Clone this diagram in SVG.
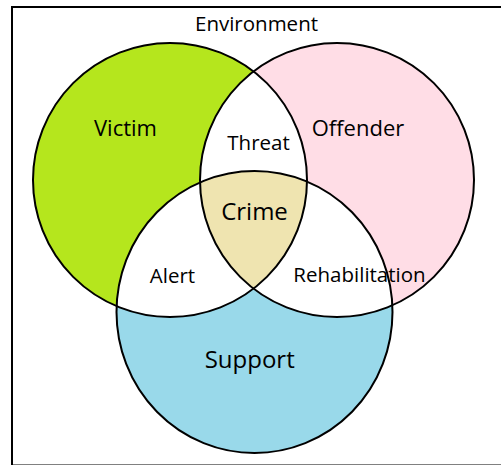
<svg xmlns="http://www.w3.org/2000/svg" width="501" height="465" viewBox="0 0 501 465">
<style>
  text { font-family: "Open Sans", "Noto Sans", sans-serif; fill: #000; text-anchor: middle; }
  .sm { font-size: 20.5px; }
  .md { font-size: 22px; }
  .lg { font-size: 24px; }
  .ring { fill: none; stroke: #000; stroke-width: 2; }
</style>
<defs>
  <circle id="cV" cx="170" cy="180" r="137"/>
  <circle id="cO" cx="337" cy="180" r="137"/>
  <ellipse id="cS" cx="254.5" cy="312" rx="138" ry="141"/>
  <clipPath id="clipV"><use href="#cV"/></clipPath>
  <clipPath id="clipO"><use href="#cO"/></clipPath>
  <clipPath id="clipS"><use href="#cS"/></clipPath>
</defs>
<rect x="0" y="0" width="501" height="465" fill="#fff"/>
<rect x="12" y="7" width="500" height="458.5" fill="#fff" stroke="#000" stroke-width="2"/>
<g id="environment"><text class="sm" x="256.5" y="31">Environment</text></g>
<g id="victim">
  <use href="#cV" fill="#b5e61d"/>
</g>
<g id="offender">
  <use href="#cO" fill="#ffdde6"/>
</g>
<g id="support">
  <use href="#cS" fill="#99d9ea"/>
</g>
<g id="threat">
  <g clip-path="url(#clipV)"><use href="#cO" fill="#fff"/></g>
</g>
<g id="alert">
  <g clip-path="url(#clipV)"><use href="#cS" fill="#fff"/></g>
</g>
<g id="rehabilitation">
  <g clip-path="url(#clipO)"><use href="#cS" fill="#fff"/></g>
</g>
<g id="crime">
  <g clip-path="url(#clipV)"><g clip-path="url(#clipO)"><use href="#cS" fill="#efe4b0"/></g></g>
</g>
<g id="outlines">
  <use href="#cV" class="ring"/>
  <use href="#cO" class="ring"/>
  <use href="#cS" class="ring"/>
</g>
<g id="labels">
  <text class="md" x="125.5" y="136">Victim</text>
  <text class="md" x="358" y="136">Offender</text>
  <text class="sm" x="258.5" y="150">Threat</text>
  <text class="lg" x="254.5" y="220">Crime</text>
  <text class="sm" x="172.5" y="283">Alert</text>
  <text class="sm" x="359.5" y="282">Rehabilitation</text>
  <text class="lg" x="249.7" y="368">Support</text>
</g>
</svg>
